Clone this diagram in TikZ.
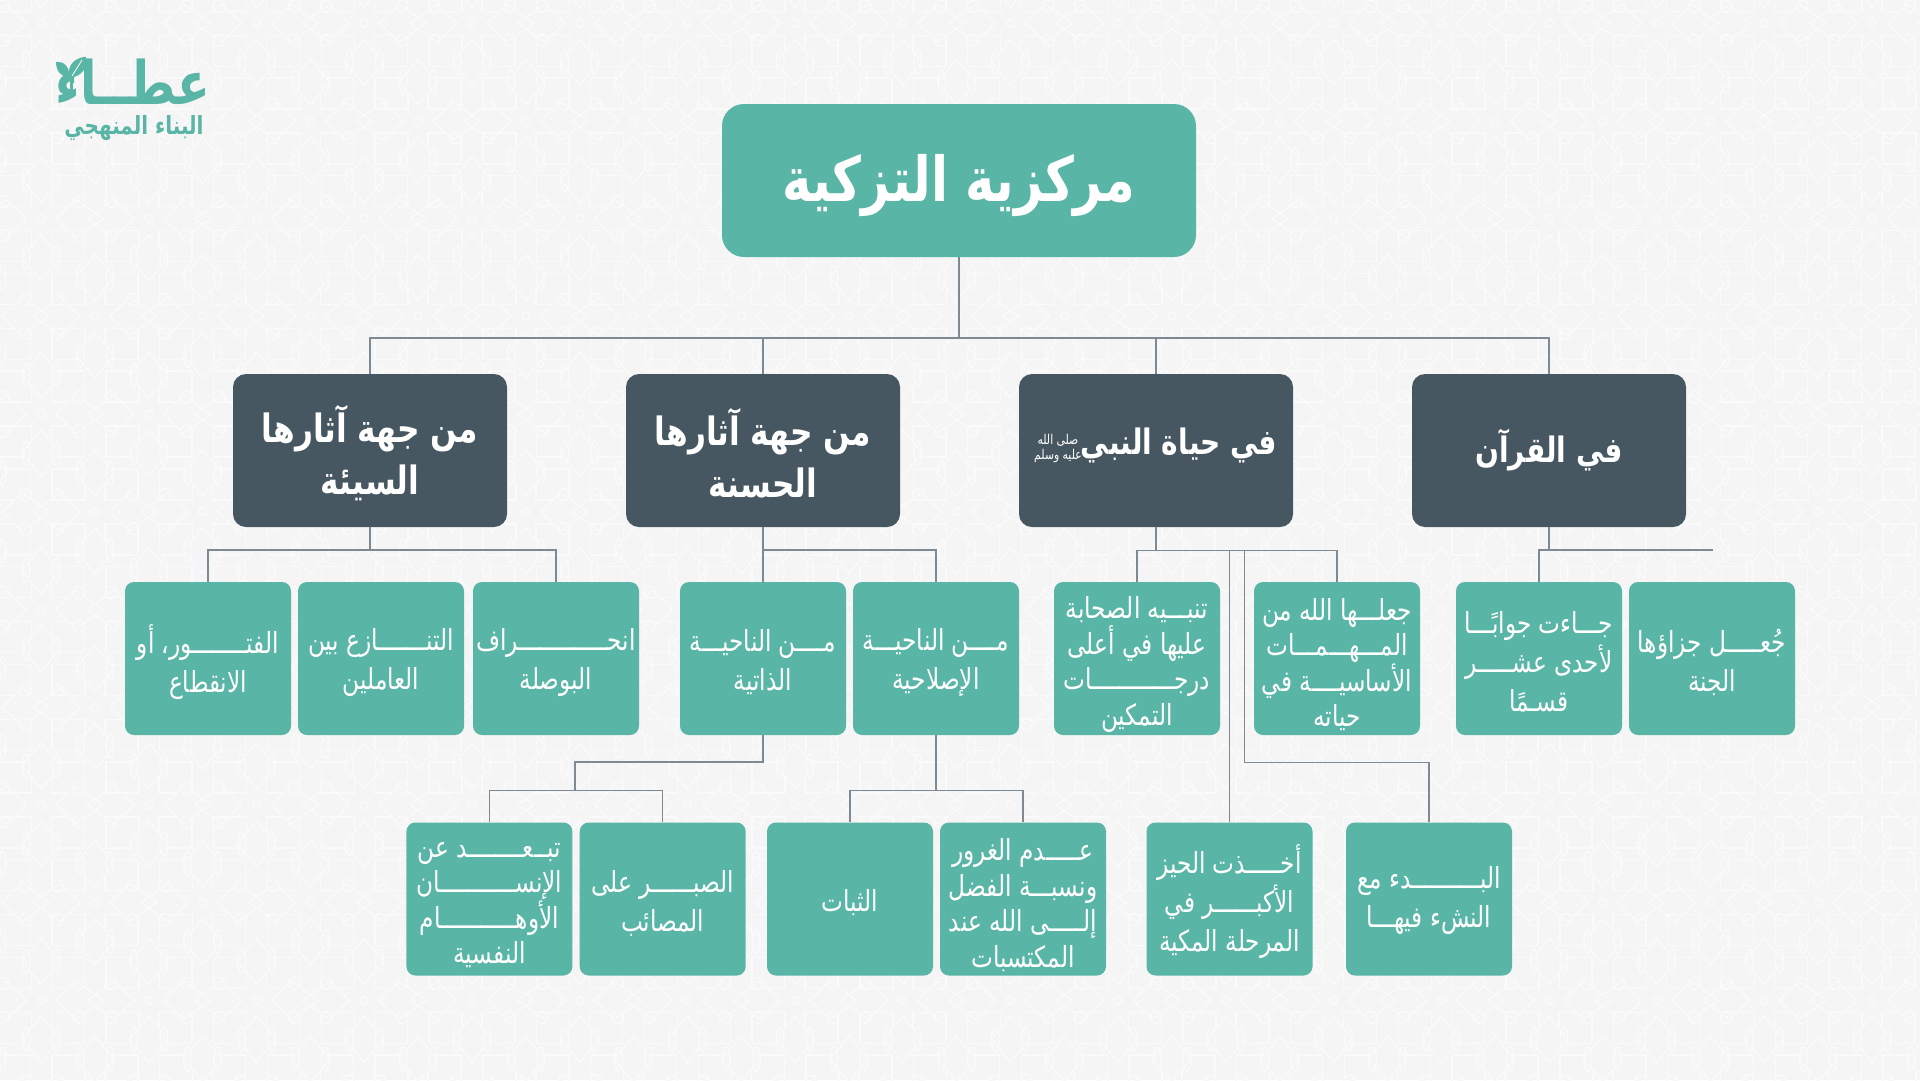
\documentclass[tikz,border=0pt]{standalone}
\usepackage{fontspec}
\TeXXeTstate=1
\newfontfamily\arfont[Script=Arabic,FakeStretch=0.8]{DejaVu Sans}
\newfontfamily\arbold[Script=Arabic,FakeStretch=0.8]{DejaVu Sans Bold}
\newcommand{\ar}[1]{\beginR #1\endR}
\definecolor{bgc}{HTML}{F5F5F5}
\definecolor{patc}{HTML}{FAFAFA}
\definecolor{teal}{HTML}{59B5A5}
\definecolor{slate}{HTML}{475761}
\definecolor{linec}{HTML}{7D8993}
\tikzset{
  basebox/.style={inner sep=0pt,rounded corners=9pt,fill=teal},
  basetext/.style={inner sep=0pt,align=center,text=white},
  rootbox/.style={basebox,minimum width=474pt,minimum height=153pt,rounded corners=22pt},
  darkbox/.style={basebox,fill=slate,minimum width=274pt,minimum height=153pt,rounded corners=13pt},
  leafbox/.style={basebox,minimum width=166pt,minimum height=153pt},
  roottext/.style={basetext,yshift=-5pt,font=\arbold\fontsize{62}{64}\selectfont},
  darktext/.style={basetext,yshift=-3pt,font=\arbold\fontsize{39}{52}\selectfont},
  leaftext/.style={basetext,yshift=-4pt,font=\arfont\fontsize{29}{39}\selectfont},
  tighttext/.style={basetext,yshift=-6pt,font=\arfont\fontsize{29}{35.5}\selectfont},
  conn/.style={draw=linec,line width=1.1pt},
  pat/.style={draw=patc,line width=1.4pt}
}
% box name, centre, box style, text style, text
\newcommand{\tbox}[5]{\node[#3] (#1) at (#2) {}; \node[#4] (#1-t) at (#1) {#5};}
\newcommand{\tilepat}{%
  \draw[pat] (0,0) circle (4);
  \draw[pat] (-43,12) rectangle (-10,43) (10,12) rectangle (43,43) (-43,-12) rectangle (-10,-43) (10,-12) rectangle (43,-43);
  \draw[pat,fill=bgc] (0,16)--(19,39)--(0,62)--(-19,39)--cycle (0,-16)--(19,-39)--(0,-62)--(-19,-39)--cycle;
  \draw[pat] (15,39) ellipse (4 and 12) (-15,39) ellipse (4 and 12) (15,-39) ellipse (4 and 12) (-15,-39) ellipse (4 and 12);
  \begin{scope}[shift={(53.85,0)}]
    \draw[pat,fill=bgc] (-39,0)--(-19,-19)--(8,0)--(-19,19)--cycle (39,0)--(19,-19)--(-8,0)--(19,19)--cycle;
    \draw[pat] (-16,-17) circle (6) (16,-17) circle (6) (-16,17) circle (6) (16,17) circle (6);
  \end{scope}
}
\begin{document}
\begin{tikzpicture}[x=1pt,y=-1pt]
\useasboundingbox (0,0) rectangle (1920,1080);
\fill[bgc] (0,0) rectangle (1920,1080);
\begin{scope}
\clip (0,0) rectangle (1920,1080);
\foreach \j in {0,...,11}{
  \foreach \i in {-1,...,18}{
    \pgfmathsetmacro{\px}{1549-14*107.7+107.7*\i+53.85*mod(\j,2)}
    \pgfmathsetmacro{\py}{23.3+97.7*\j}
    \begin{scope}[shift={(\px,\py)}]
      \tilepat
    \end{scope}
  }
}
\end{scope}

% logo
\node[inner sep=0pt,text=teal,font=\arbold\fontsize{60}{60}\selectfont] (logo) at (133,82) {\ar{عطــاء}};
\node[inner sep=0pt,text=teal,font=\arbold\fontsize{25}{26}\selectfont] (logosub) at (134,128) {\ar{البناء المنهجي}};
\fill[teal] (56,62) .. controls (65,61) and (70,68) .. (69,77) .. controls (60,77) and (56,70) .. (56,62);
\fill[teal] (70,78) .. controls (66,66) and (74,58) .. (85.7,56.7) .. controls (88,68) and (82,76) .. (70,78);
\draw[white,line width=0.8pt] (72,76)--(82,60);
\fill[teal] (70,76) rectangle (73,92);

% root
\tbox{root}{959,180.5}{rootbox}{roottext}{\ar{مركزية التزكية}}
% level 2
\tbox{d1}{370,450.5}{darkbox}{darktext}{\ar{من جهة آثارها}\\\ar{السيئة}}
\tbox{d2}{763,450.5}{darkbox}{darktext}{\ar{من جهة آثارها}\\\ar{الحسنة}}
\node[darkbox] (d3) at (1156,450.5) {};
\node[basetext,font=\arbold\fontsize{35}{40}\selectfont] (d3t) at (1179,445) {\ar{في حياة النبي}};
\node[basetext,font=\arfont\fontsize{13.5}{15}\selectfont] (d3s) at (1058,449) {\ar{صلى الله}\\\ar{عليه وسلم}};
\tbox{d4}{1549,450.5}{darkbox}{basetext,font=\arbold\fontsize{35}{52}\selectfont}{\ar{في القرآن}}
% row 1
\tbox{a1}{208,658.5}{leafbox}{leaftext}{\ar{الفتــــــــور، أو}\\\ar{الانقطاع}}
\tbox{a2}{381,658.5}{leafbox}{leaftext}{\ar{التنـــــــازع بين}\\\ar{العاملين}}
\tbox{a3}{556,658.5}{leafbox}{leaftext}{\ar{انحـــــــــــــراف}\\\ar{البوصلة}}
\tbox{a4}{763,658.5}{leafbox}{leaftext}{\ar{مــــن الناحيـــة}\\\ar{الذاتية}}
\tbox{a5}{936,658.5}{leafbox}{leaftext}{\ar{مــــن الناحيـــة}\\\ar{الإصلاحية}}
\tbox{a6}{1137,658.5}{leafbox}{tighttext}{\ar{تنبـــيه الصحابة}\\\ar{عليها في أعلى}\\\ar{درجــــــــــــات}\\\ar{التمكين}}
\tbox{a7}{1337,658.5}{leafbox}{tighttext}{\ar{جعلـــها الله من}\\\ar{المـــهـــمـــات}\\\ar{الأساسيــــة في}\\\ar{حياته}}
\tbox{a8}{1539,658.5}{leafbox}{leaftext,yshift=1pt}{\ar{جـــاءت جوابًـــا}\\\ar{لأحدى عشـــــر}\\\ar{قسـمًا}}
\tbox{a9}{1712,658.5}{leafbox}{leaftext}{\ar{جُعـــــل جزاؤها}\\\ar{الجنة}}
% row 2
\tbox{b1}{489.4,899}{leafbox}{tighttext}{\ar{تبــعــــــــد عن}\\\ar{الإنســـــــــــان}\\\ar{الأوهـــــــــــام}\\\ar{النفسية}}
\tbox{b2}{662.7,899}{leafbox}{leaftext}{\ar{الصبــــــر على}\\\ar{المصائب}}
\tbox{b3}{850,899}{leafbox}{leaftext}{\ar{الثبات}}
\tbox{b4}{1023,899}{leafbox}{tighttext}{\ar{عـــــدم الغرور}\\\ar{ونسبـــة الفضل}\\\ar{إلـــــى الله عند}\\\ar{المكتسبات}}
\tbox{b5}{1229.5,899}{leafbox}{leaftext,yshift=1pt}{\ar{أخـــــذت الحيز}\\\ar{الأكبــــــر في}\\\ar{المرحلة المكية}}
\tbox{b6}{1429,899}{leafbox}{leaftext,yshift=2pt}{\ar{البــــــــــدء مع}\\\ar{النشء فيهـــا}}

% connectors
\coordinate (top) at (959,338);
\draw[conn] (root.south) -- (top);
\draw[conn] (d1.north) |- (top) -| (d4.north);
\draw[conn] (d2.north) -- (d2.north |- top);
\draw[conn] (d3.north) -- (d3.north |- top);
\coordinate (bus1) at (370,550);
\draw[conn] (d1.south) -- (bus1);
\draw[conn] (a1.north) |- (bus1) -| (a3.north);
\coordinate (bus2) at (763,550);
\draw[conn] (d2.south) -- (a4.north);
\draw[conn] (bus2) -| (a5.north);
\coordinate (bus3) at (1156,550.5);
\draw[conn] (d3.south) -- (bus3);
\draw[conn] (a6.north) |- (bus3) -| (a7.north);
\draw[conn] (b5.north) -- (b5.north |- bus3);
\coordinate (split) at (1244.5,550.5);
\coordinate (turn) at (1244.5,762.5);
\draw[conn] (split) -- (turn) -| (b6.north);
\coordinate (bus4) at (1549,550);
\coordinate (stub) at (1713,550);
\draw[conn] (d4.south) -- (bus4);
\draw[conn] (a8.north) |- (bus4) -- (stub);
\coordinate (bend) at (575,762);
\coordinate (bus5) at (575,790.5);
\draw[conn] (a4.south) |- (bend) -- (bus5);
\draw[conn] (b1.north) |- (bus5) -| (b2.north);
\coordinate (bus6) at (936,790.5);
\draw[conn] (a5.south) -- (bus6);
\draw[conn] (b3.north) |- (bus6) -| (b4.north);
\end{tikzpicture}
\end{document}
